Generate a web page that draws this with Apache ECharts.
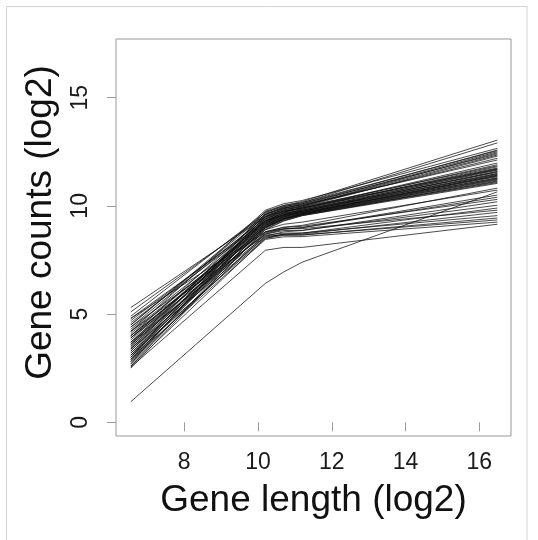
<!DOCTYPE html>
<html>
<head>
<meta charset="utf-8">
<script src="https://cdn.jsdelivr.net/npm/echarts@6/dist/echarts.min.js"></script>
<style>html,body{margin:0;padding:0;background:#fff;}#chart{width:538px;height:540px;}</style>
</head>
<body>
<div id="chart"></div>
<script>
// Gene length (log2) positions at which each curve is sampled
const xPoints = [6.55, 10.2, 10.7, 11.2, 16.49];
const xTicks = [8, 10, 12, 14, 16];
const yTicks = [0, 5, 10, 15];
const xTitle = 'Gene length (log2)';
const yTitle = 'Gene counts (log2)';

// Gene counts (log2) at xPoints, one row per sample
const upperCurves = [
  [4.9, 9.7, 10.02, 10.2, 13.04],
  [3.6, 9.6, 9.95, 10.15, 12.91],
  [4.2, 9.8, 10.1, 10.25, 12.66],
  [3.1, 9.5, 9.87, 10.1, 12.58],
  [5.1, 9.6, 9.9, 10.05, 12.5],
  [2.8, 9.4, 9.77, 10.0, 12.45],
  [4.5, 9.7, 9.97, 10.1, 12.4],
  [3.4, 9.5, 9.82, 10.0, 12.35],
  [3.9, 9.3, 9.7, 9.95, 12.3],
  [2.7, 9.65, 9.92, 10.05, 12.12],
  [4.7, 9.4, 9.72, 9.9, 11.98],
  [3.3, 9.3, 9.67, 9.9, 11.9],
  [4.0, 9.55, 9.82, 9.95, 11.85],
  [2.9, 9.2, 9.6, 9.85, 11.81],
  [3.7, 9.45, 9.75, 9.9, 11.75],
  [4.4, 9.5, 9.75, 9.85, 11.72],
  [3.0, 9.25, 9.6, 9.8, 11.68],
  [3.5, 9.4, 9.67, 9.8, 11.65],
  [4.1, 9.2, 9.55, 9.75, 11.6],
  [2.6, 9.1, 9.5, 9.75, 11.58],
  [3.8, 9.35, 9.65, 9.8, 11.55],
  [4.6, 9.3, 9.6, 9.75, 11.5],
  [3.2, 9.15, 9.5, 9.7, 11.48],
  [3.6, 9.3, 9.6, 9.75, 11.45],
  [2.5, 9.0, 9.4, 9.65, 11.42],
  [4.3, 9.25, 9.55, 9.7, 11.4],
  [3.4, 9.1, 9.45, 9.65, 11.38],
  [3.9, 9.2, 9.51, 9.68, 11.35],
  [2.9, 9.05, 9.41, 9.63, 11.3],
  [4.8, 9.3, 9.57, 9.7, 11.28],
  [3.1, 9.0, 9.37, 9.6, 11.25],
  [3.7, 9.15, 9.47, 9.65, 11.22],
  [4.2, 9.1, 9.42, 9.6, 11.19],
  [2.7, 8.9, 9.3, 9.55, 11.15],
  [3.5, 9.05, 9.4, 9.6, 11.12],
  [4.0, 9.0, 9.36, 9.58, 11.08],
  [3.3, 8.95, 9.32, 9.55, 11.04],
  [5.3, 9.5, 9.77, 9.9, 11.7],
  [4.5, 9.6, 9.87, 10.0, 12.2],
  [3.0, 9.75, 10.02, 10.15, 12.55]
];
const lowerCurves = [
  [3.2, 8.8, 9.02, 9.1, 10.82],
  [4.0, 8.9, 9.15, 9.25, 10.73],
  [2.8, 8.7, 8.92, 9.0, 10.5],
  [3.6, 8.75, 8.94, 8.99, 10.4],
  [4.4, 8.8, 9.0, 9.06, 10.3],
  [3.0, 8.6, 8.8, 8.86, 10.19],
  [3.9, 8.7, 8.86, 8.87, 10.03],
  [2.6, 8.5, 8.69, 8.74, 9.9],
  [4.8, 8.8, 8.94, 8.95, 9.8],
  [3.4, 8.55, 8.69, 8.7, 9.7],
  [4.2, 8.65, 8.74, 8.75, 9.55],
  [3.1, 8.5, 8.64, 8.65, 9.44],
  [3.7, 8.6, 8.66, 8.66, 9.35],
  [2.9, 8.45, 8.57, 8.58, 9.25]
];
const outlierCurves = [
  [2.55, 7.95, 8.08, 8.08, 9.15],
  [0.95, 6.42, 6.95, 7.4, 10.65]
];

const FONT = "'Liberation Sans', Arial, sans-serif";
const allCurves = upperCurves.concat(lowerCurves, outlierCurves);
const series = allCurves.map((c) => ({
  type: 'line',
  data: xPoints.map((x, i) => [x, c[i]]),
  showSymbol: false,
  smooth: false,
  silent: true,
  lineStyle: { color: 'rgba(15,15,15,0.75)', width: 1 }
}));

const chart = echarts.init(document.getElementById('chart'), null, { renderer: 'canvas' });
chart.setOption({
  animation: false,
  backgroundColor: '#fff',
  grid: { left: 116, right: 27, top: 39, bottom: 104, show: true, borderColor: '#999', borderWidth: 1, backgroundColor: 'transparent' },
  xAxis: {
    type: 'value', min: 6.149, max: 16.86,
    axisLine: { show: false },
    splitLine: { show: false },
    axisTick: { show: true, length: 9, lineStyle: { color: '#999' }, customValues: xTicks },
    axisLabel: { fontSize: 23, color: '#1a1a1a', fontFamily: FONT, margin: 15, customValues: xTicks }
  },
  yAxis: {
    type: 'value', min: -0.633, max: 17.71,
    axisLine: { show: false },
    splitLine: { show: false },
    axisTick: { show: true, length: 9, lineStyle: { color: '#999' }, customValues: yTicks },
    axisLabel: { fontSize: 23, color: '#1a1a1a', fontFamily: FONT, margin: 24, rotate: 90, customValues: yTicks }
  },
  graphic: [
    { type: 'rect', shape: { x: 6.5, y: 6.5, width: 520.5, height: 560 }, style: { fill: 'none', stroke: '#d4d4d4', lineWidth: 1 }, silent: true },
    { type: 'text', x: 313.5, y: 501, style: { text: xTitle, font: '37px ' + FONT, fill: '#111', textAlign: 'center', textVerticalAlign: 'middle' } },
    { type: 'text', x: 40.5, y: 222.5, rotation: Math.PI / 2, style: { text: yTitle, font: '37px ' + FONT, fill: '#111', textAlign: 'center', textVerticalAlign: 'middle' } }
  ],
  series: series
});
</script>
</body>
</html>
